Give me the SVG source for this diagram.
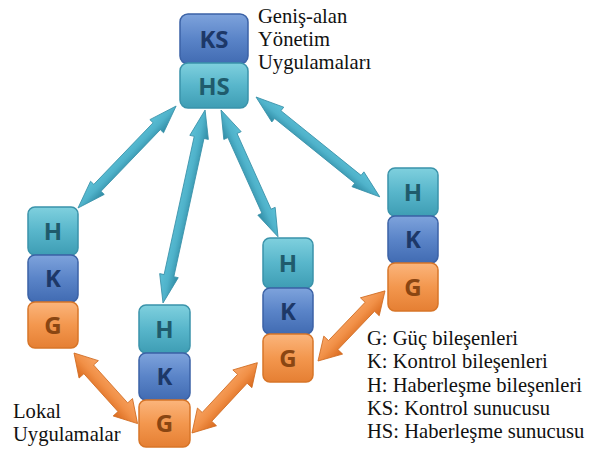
<svg xmlns="http://www.w3.org/2000/svg" width="596" height="450" viewBox="0 0 596 450">
<defs>
<linearGradient id="gH" x1="0" y1="0" x2="0" y2="1"><stop offset="0" stop-color="#7fd0de"/><stop offset="0.5" stop-color="#58b6cb"/><stop offset="1" stop-color="#3e9db4"/></linearGradient>
<linearGradient id="gK" x1="0" y1="0" x2="0" y2="1"><stop offset="0" stop-color="#7ea3dc"/><stop offset="0.5" stop-color="#5a84c8"/><stop offset="1" stop-color="#416bb2"/></linearGradient>
<linearGradient id="gG" x1="0" y1="0" x2="0" y2="1"><stop offset="0" stop-color="#fbb57c"/><stop offset="0.5" stop-color="#f3974e"/><stop offset="1" stop-color="#e57f33"/></linearGradient>
<linearGradient id="aB" x1="0" y1="0" x2="0" y2="1"><stop offset="0" stop-color="#5cc0d6"/><stop offset="0.5" stop-color="#4fb2ca"/><stop offset="1" stop-color="#2f8aa3"/></linearGradient>
<linearGradient id="aO" x1="0" y1="0" x2="0" y2="1"><stop offset="0" stop-color="#f8a565"/><stop offset="0.5" stop-color="#f19047"/><stop offset="1" stop-color="#d9691d"/></linearGradient>
</defs>
<style>
.h{fill:url(#gH);stroke:#3a93aa;stroke-width:1.5}
.k{fill:url(#gK);stroke:#3b62a6;stroke-width:1.5}
.g{fill:url(#gG);stroke:#d77528;stroke-width:1.5}
.bt{font-family:"Open Sans","DejaVu Sans",sans-serif;font-weight:bold;font-size:24px;text-anchor:middle}
.th{fill:#1f5b6c}
.tk{fill:#1d3868}
.tg{fill:#8a4612}
.lbl{font-size:20.6px;fill:#111}
.ab{fill:url(#aB);stroke:#3890a8;stroke-width:0.8}
.ao{fill:url(#aO);stroke:#cf6a20;stroke-width:0.8}
</style>
<g id="connectors">
<polygon class="ab" transform="translate(78,208) rotate(-46.1)" points="0,0 28,-9.5 28,-5 113.5,-5 113.5,-9.5 141.5,0 113.5,9.5 113.5,5 28,5 28,9.5"/>
<polygon class="ab" transform="translate(163,303) rotate(-77.7)" points="0,0 28,-9.5 28,-5 169.5,-5 169.5,-9.5 197.5,0 169.5,9.5 169.5,5 28,5 28,9.5"/>
<polygon class="ab" transform="translate(221,110) rotate(65.8)" points="0,0 28,-9.5 28,-5 111,-5 111,-9.5 139,0 111,9.5 111,5 28,5 28,9.5"/>
<polygon class="ab" transform="translate(256,97) rotate(38.9)" points="0,0 28,-9.5 28,-5 131,-5 131,-9.5 159,0 131,9.5 131,5 28,5 28,9.5"/>
<polygon class="ao" transform="translate(74,353) rotate(48)" points="0,0 22,-13 22,-6.5 73,-6.5 73,-13 95,0 73,13 73,6.5 22,6.5 22,13"/>
<polygon class="ao" transform="translate(192,433) rotate(-47.1)" points="0,0 22,-13 22,-6.5 74,-6.5 74,-13 96,0 74,13 74,6.5 22,6.5 22,13"/>
<polygon class="ao" transform="translate(318,361) rotate(-46.3)" points="0,0 22,-13 22,-6.5 75,-6.5 75,-13 97,0 75,13 75,6.5 22,6.5 22,13"/>
</g>
<g id="ks"><rect class="k" x="180" y="14" width="68" height="50" rx="8"/><text class="bt tk" x="214" y="48">KS</text></g>
<g id="hs"><rect class="h" x="180" y="63" width="68" height="45" rx="8"/><text class="bt th" x="214" y="95">HS</text></g>
<g id="s1-h"><rect class="h" x="28" y="207" width="50" height="48" rx="7"/><text class="bt th" x="53" y="240">H</text></g>
<g id="s1-k"><rect class="k" x="28" y="255" width="50" height="47" rx="7"/><text class="bt tk" x="53" y="287">K</text></g>
<g id="s1-g"><rect class="g" x="28" y="302" width="50" height="46" rx="7"/><text class="bt tg" x="53" y="334">G</text></g>
<g id="s2-h"><rect class="h" x="139" y="305" width="51" height="48" rx="7"/><text class="bt th" x="164.5" y="338">H</text></g>
<g id="s2-k"><rect class="k" x="139" y="353" width="51" height="47" rx="7"/><text class="bt tk" x="164.5" y="385">K</text></g>
<g id="s2-g"><rect class="g" x="139" y="400" width="51" height="47" rx="7"/><text class="bt tg" x="164.5" y="432">G</text></g>
<g id="s3-h"><rect class="h" x="263" y="238" width="50" height="50" rx="7"/><text class="bt th" x="288" y="272">H</text></g>
<g id="s3-k"><rect class="k" x="263" y="288" width="50" height="46" rx="7"/><text class="bt tk" x="288" y="320">K</text></g>
<g id="s3-g"><rect class="g" x="263" y="334" width="50" height="48" rx="7"/><text class="bt tg" x="288" y="367">G</text></g>
<g id="s4-h"><rect class="h" x="388" y="168" width="50" height="48" rx="7"/><text class="bt th" x="413" y="201">H</text></g>
<g id="s4-k"><rect class="k" x="388" y="216" width="50" height="47" rx="7"/><text class="bt tk" x="413" y="248">K</text></g>
<g id="s4-g"><rect class="g" x="388" y="263" width="50" height="48" rx="7"/><text class="bt tg" x="413" y="296">G</text></g>
<g id="labels" font-family="'Liberation Serif', 'DejaVu Serif', serif">
<text class="lbl" x="258" y="23">Geniş-alan</text>
<text class="lbl" x="258" y="46">Yönetim</text>
<text class="lbl" x="258" y="69">Uygulamaları</text>
<text class="lbl" x="13" y="418">Lokal</text>
<text class="lbl" x="13" y="441">Uygulamalar</text>
<text class="lbl" x="367" y="345">G: Güç bileşenleri</text>
<text class="lbl" x="367" y="368">K: Kontrol bileşenleri</text>
<text class="lbl" x="367" y="392">H: Haberleşme bileşenleri</text>
<text class="lbl" x="367" y="415">KS: Kontrol sunucusu</text>
<text class="lbl" x="367" y="438">HS: Haberleşme sunucusu</text>
</g>
</svg>
